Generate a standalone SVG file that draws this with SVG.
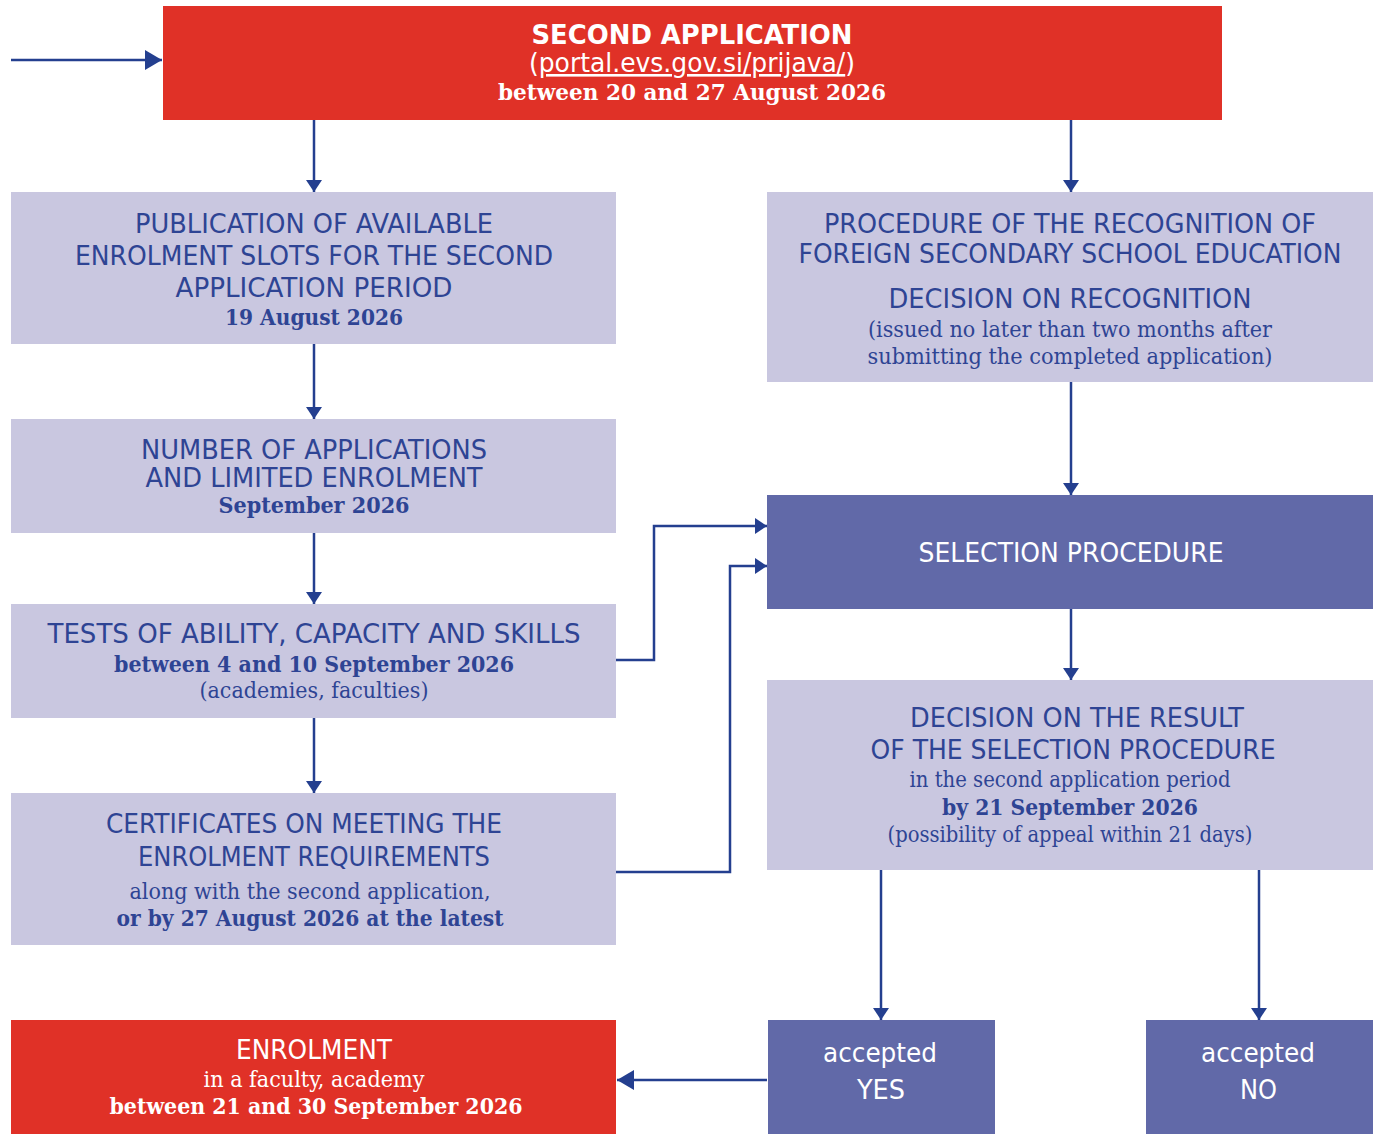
<svg xmlns="http://www.w3.org/2000/svg" width="1381" height="1135" viewBox="0 0 1381 1135">
<defs>
<style>
.red{fill:#E03127}
.lt{fill:#C9C7E0}
.dk{fill:#6169A8}
.s{font-family:"DejaVu Sans Condensed","DejaVu Sans","Liberation Sans",sans-serif;font-size:26px;text-anchor:middle}
.f{font-family:"DejaVu Serif Condensed","DejaVu Serif","Liberation Serif",serif;font-size:23px;text-anchor:middle}
.b{font-weight:bold}
.bl{fill:#2E4494}
.wh{fill:#FFFFFF}
.con{fill:none;stroke:#243F8F;stroke-width:2.5}
</style>
<marker id="ah" markerUnits="userSpaceOnUse" viewBox="0 0 12 16" markerWidth="12" markerHeight="16" refX="12" refY="8" orient="auto"><path d="M0,0 L12,8 L0,16 z" fill="#243F8F"/></marker>
<marker id="ahb" markerUnits="userSpaceOnUse" viewBox="0 0 17 20" markerWidth="17" markerHeight="20" refX="17" refY="10" orient="auto"><path d="M0,0 L17,10 L0,20 z" fill="#243F8F"/></marker>
</defs>
<rect width="1381" height="1135" fill="#FFFFFF"/>

<g id="connectors">
<path class="con" d="M11,60 H162" marker-end="url(#ahb)"/>
<path class="con" d="M314,120 V192" marker-end="url(#ah)"/>
<path class="con" d="M1071,120 V192" marker-end="url(#ah)"/>
<path class="con" d="M314,344 V419" marker-end="url(#ah)"/>
<path class="con" d="M314,533 V604" marker-end="url(#ah)"/>
<path class="con" d="M314,718 V793" marker-end="url(#ah)"/>
<path class="con" d="M1071,382 V495" marker-end="url(#ah)"/>
<path class="con" d="M1071,609 V680" marker-end="url(#ah)"/>
<path class="con" d="M616,660 H654 V526 H767" marker-end="url(#ah)"/>
<path class="con" d="M616,872 H730 V566 H767" marker-end="url(#ah)"/>
<path class="con" d="M881,870 V1020" marker-end="url(#ah)"/>
<path class="con" d="M1259,870 V1020" marker-end="url(#ah)"/>
<path class="con" d="M767,1080 H617" marker-end="url(#ahb)"/>
</g>

<g id="second-application">
<rect class="red" x="163" y="6" width="1059" height="114"/>
<text class="s b wh" x="692" y="44" textLength="321" lengthAdjust="spacingAndGlyphs">SECOND APPLICATION</text>
<text class="s wh" x="692" y="72" textLength="326" lengthAdjust="spacingAndGlyphs">(<tspan text-decoration="underline">portal.evs.gov.si/prijava/</tspan>)</text>
<text class="f b wh" x="692" y="100" textLength="388" lengthAdjust="spacingAndGlyphs">between 20 and 27 August 2026</text>
</g>

<g id="publication">
<rect class="lt" x="11" y="192" width="605" height="152"/>
<text class="s bl" x="314" y="233" textLength="358" lengthAdjust="spacingAndGlyphs">PUBLICATION OF AVAILABLE</text>
<text class="s bl" x="314" y="265" textLength="478" lengthAdjust="spacingAndGlyphs">ENROLMENT SLOTS FOR THE SECOND</text>
<text class="s bl" x="314" y="297" textLength="277" lengthAdjust="spacingAndGlyphs">APPLICATION PERIOD</text>
<text class="f b bl" x="314" y="325" textLength="178" lengthAdjust="spacingAndGlyphs">19 August 2026</text>
</g>

<g id="number-of-applications">
<rect class="lt" x="11" y="419" width="605" height="114"/>
<text class="s bl" x="314" y="459" textLength="346" lengthAdjust="spacingAndGlyphs">NUMBER OF APPLICATIONS</text>
<text class="s bl" x="314" y="487" textLength="337" lengthAdjust="spacingAndGlyphs">AND LIMITED ENROLMENT</text>
<text class="f b bl" x="314" y="513" textLength="191" lengthAdjust="spacingAndGlyphs">September 2026</text>
</g>

<g id="tests">
<rect class="lt" x="11" y="604" width="605" height="114"/>
<text class="s bl" x="314" y="643" textLength="533" lengthAdjust="spacingAndGlyphs">TESTS OF ABILITY, CAPACITY AND SKILLS</text>
<text class="f b bl" x="314" y="672" textLength="400" lengthAdjust="spacingAndGlyphs">between 4 and 10 September 2026</text>
<text class="f bl" x="314" y="698" textLength="229" lengthAdjust="spacingAndGlyphs">(academies, faculties)</text>
</g>

<g id="certificates">
<rect class="lt" x="11" y="793" width="605" height="152"/>
<text class="s bl" x="304" y="833" textLength="396" lengthAdjust="spacingAndGlyphs">CERTIFICATES ON MEETING THE</text>
<text class="s bl" x="314" y="866" textLength="352" lengthAdjust="spacingAndGlyphs">ENROLMENT REQUIREMENTS</text>
<text class="f bl" x="310" y="899" textLength="361" lengthAdjust="spacingAndGlyphs">along with the second application,</text>
<text class="f b bl" x="310" y="926" textLength="387" lengthAdjust="spacingAndGlyphs">or by 27 August 2026 at the latest</text>
</g>

<g id="enrolment">
<rect class="red" x="11" y="1020" width="605" height="114"/>
<text class="s wh" x="314" y="1059" textLength="156" lengthAdjust="spacingAndGlyphs">ENROLMENT</text>
<text class="f wh" x="314" y="1087" textLength="221" lengthAdjust="spacingAndGlyphs">in a faculty, academy</text>
<text class="f b wh" x="316" y="1114" textLength="413" lengthAdjust="spacingAndGlyphs">between 21 and 30 September 2026</text>
</g>

<g id="recognition">
<rect class="lt" x="767" y="192" width="606" height="190"/>
<text class="s bl" x="1070" y="233" textLength="492" lengthAdjust="spacingAndGlyphs">PROCEDURE OF THE RECOGNITION OF</text>
<text class="s bl" x="1070" y="263" textLength="543" lengthAdjust="spacingAndGlyphs">FOREIGN SECONDARY SCHOOL EDUCATION</text>
<text class="s bl" x="1070" y="308" textLength="363" lengthAdjust="spacingAndGlyphs">DECISION ON RECOGNITION</text>
<text class="f bl" x="1070" y="337" textLength="404" lengthAdjust="spacingAndGlyphs">(issued no later than two months after</text>
<text class="f bl" x="1070" y="364" textLength="405" lengthAdjust="spacingAndGlyphs">submitting the completed application)</text>
</g>

<g id="selection">
<rect class="dk" x="767" y="495" width="606" height="114"/>
<text class="s wh" x="1071" y="562" textLength="305" lengthAdjust="spacingAndGlyphs">SELECTION PROCEDURE</text>
</g>

<g id="decision">
<rect class="lt" x="767" y="680" width="606" height="190"/>
<text class="s bl" x="1077" y="727" textLength="334" lengthAdjust="spacingAndGlyphs">DECISION ON THE RESULT</text>
<text class="s bl" x="1073" y="759" textLength="405" lengthAdjust="spacingAndGlyphs">OF THE SELECTION PROCEDURE</text>
<text class="f bl" x="1070" y="787" textLength="321" lengthAdjust="spacingAndGlyphs">in the second application period</text>
<text class="f b bl" x="1070" y="815" textLength="256" lengthAdjust="spacingAndGlyphs">by 21 September 2026</text>
<text class="f bl" x="1070" y="842" textLength="365" lengthAdjust="spacingAndGlyphs">(possibility of appeal within 21 days)</text>
</g>

<g id="accepted-yes">
<rect class="dk" x="768" y="1020" width="227" height="114"/>
<text class="s wh" x="880" y="1062" textLength="114" lengthAdjust="spacingAndGlyphs">accepted</text>
<text class="s wh" x="881" y="1099" textLength="48" lengthAdjust="spacingAndGlyphs">YES</text>
</g>

<g id="accepted-no">
<rect class="dk" x="1146" y="1020" width="227" height="114"/>
<text class="s wh" x="1258" y="1062" textLength="114" lengthAdjust="spacingAndGlyphs">accepted</text>
<text class="s wh" x="1258.5" y="1099" textLength="37" lengthAdjust="spacingAndGlyphs">NO</text>
</g>
</svg>
